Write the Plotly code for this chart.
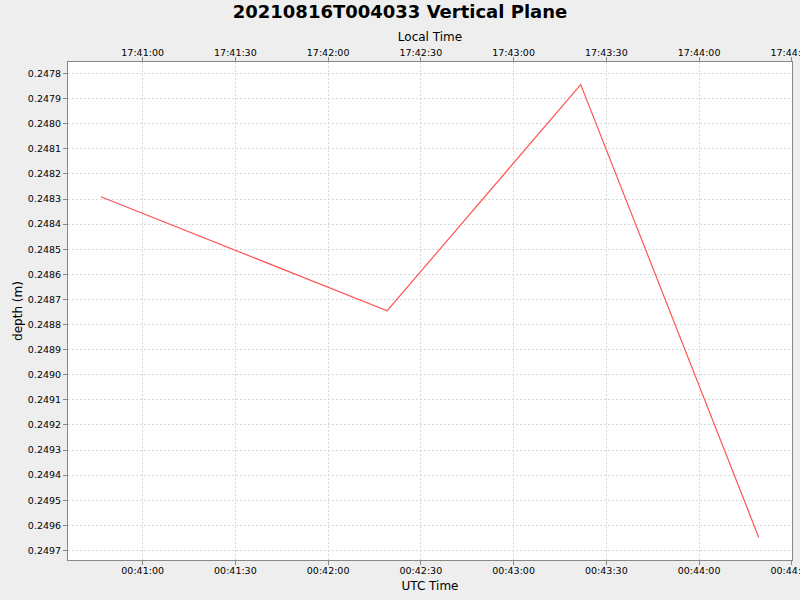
import plotly.graph_objects as go

# depth samples (UTC)
utc_times = [
    "2021-08-16 00:40:46.5",
    "2021-08-16 00:42:19.1",
    "2021-08-16 00:43:21.7",
    "2021-08-16 00:44:19.3",
]
local_times = [
    "2021-08-15 17:40:46.5",
    "2021-08-15 17:42:19.1",
    "2021-08-15 17:43:21.7",
    "2021-08-15 17:44:19.3",
]
depth = [0.248291, 0.248745, 0.247844, 0.249648]

TITLE = "20210816T004033 Vertical Plane"
BG = "#eeeeee"
AXIS = "#888888"
GRID = "#d8d8d8"
RED = "#ff5555"
FONT = "DejaVu Sans"

fig = go.Figure()

fig.add_trace(go.Scatter(
    x=utc_times, y=depth, mode="lines",
    line=dict(color=RED, width=1.2),
    showlegend=False,
))
# invisible copy on the local-time axis so the top axis is drawn
fig.add_trace(go.Scatter(
    x=local_times, y=depth, mode="lines", xaxis="x2",
    line=dict(color="rgba(0,0,0,0)", width=0),
    showlegend=False, hoverinfo="skip",
))

tick_font = dict(family=FONT, size=9.5, color="black")
title_font = dict(family=FONT, size=12, color="black")

common_x = dict(
    type="date", dtick=30000, tickformat="%H:%M:%S",
    showline=True, linecolor=AXIS, linewidth=1,
    ticks="outside", ticklen=4, tickcolor=AXIS,
    tickfont=tick_font, zeroline=False, automargin=False,
    ticklabeloverflow="allow",
)

fig.update_layout(
    width=800, height=600,
    paper_bgcolor=BG, plot_bgcolor="white",
    margin=dict(l=68, r=8, t=62, b=40),
    font=dict(family=FONT),
    title=dict(text="<b>" + TITLE + "</b>", x=0.5, xanchor="center",
               y=1 - 12 / 600, yanchor="middle", yref="container",
               font=dict(family=FONT, size=18, color="black")),
    xaxis=dict(
        **common_x,
        range=["2021-08-16 00:40:35.86", "2021-08-16 00:44:30.05"],
        tick0="2021-08-16 00:00:00",
        ticklabelstandoff=-2,
        showgrid=True, gridcolor=GRID, griddash="2px,2px", gridwidth=1,
        title=dict(text="UTC Time", font=title_font, standoff=6),
    ),
    xaxis2=dict(
        **common_x,
        overlaying="x", side="top",
        range=["2021-08-15 17:40:35.86", "2021-08-15 17:44:30.05"],
        tick0="2021-08-15 00:00:00",
        ticklabelstandoff=-3,
        showgrid=False,
        title=dict(text="Local Time", font=title_font, standoff=3),
    ),
    yaxis=dict(
        range=[0.249738, 0.247754],
        dtick=0.0001, tick0=0.2478, tickformat=".4f",
        showline=True, linecolor=AXIS, linewidth=1, mirror=True,
        ticks="outside", ticklen=4, tickcolor=AXIS,
        tickfont=tick_font, zeroline=False, automargin=False,
        showgrid=True, gridcolor=GRID, griddash="2px,2px", gridwidth=1,
        title=dict(text="depth (m)", font=title_font, standoff=2),
    ),
)

# drop the browser's default body margin so the chart sits at 0,0
fig.write_html("out.html", config={"displayModeBar": False},
               post_script="document.body.style.margin='0';")
